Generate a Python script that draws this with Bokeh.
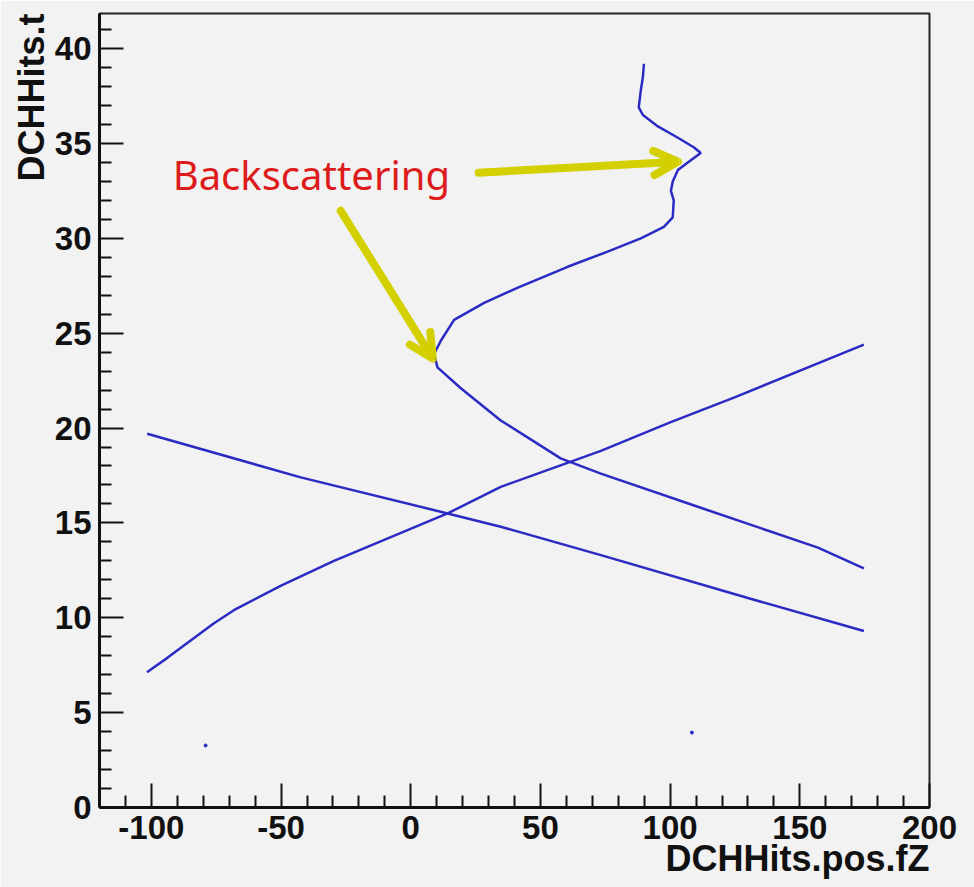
from bokeh.plotting import figure
from bokeh.models import FixedTicker, Label, Arrow, OpenHead, Range1d, Title
from bokeh.embed import file_html
from bokeh.resources import INLINE

# ---- data ----
x_major = [-100, -50, 0, 50, 100, 150, 200]
x_minor = [-110, -90, -80, -70, -60, -40, -30, -20, -10, 10, 20, 30, 40, 60, 70, 80, 90,
           110, 120, 130, 140, 160, 170, 180, 190]
x_tick_labels = ["-100", "-50", "0", "50", "100", "150", "200"]
y_major = [0, 5, 10, 15, 20, 25, 30, 35, 40]
y_minor = [1, 2, 3, 4, 6, 7, 8, 9, 11, 12, 13, 14, 16, 17, 18, 19, 21, 22, 23, 24,
           26, 27, 28, 29, 31, 32, 33, 34, 36, 37, 38, 39, 41]
y_tick_labels = ["0", "5", "10", "15", "20", "25", "30", "35", "40"]

# rising track
rise_x = [-101.7, -93.7, -76.0, -68.2, -50.0, -29.6, 14.2, 34.7, 73.3, 100.0, 124.6, 174.7]
rise_y = [7.13, 7.9, 9.7, 10.4, 11.7, 13.0, 15.5, 16.9, 18.8, 20.3, 21.6, 24.4]
# falling track
fall_x = [-101.6, -42.4, 14.2, 34.7, 73.3, 131.0, 174.7]
fall_y = [19.7, 17.4, 15.5, 14.8, 13.3, 11.0, 9.3]
# backscattering track
back_x = [174.7, 157.0, 111.8, 73.3, 57.8, 34.7, 19.3, 10.3, 9.0, 11.6, 16.7, 28.3, 41.3,
          60.5, 75.9, 88.7, 97.6, 101.0, 101.4, 100.3, 101.0, 103.0, 106.8, 111.8, 109.1,
          103.0, 95.3, 89.5, 87.9, 88.7, 89.5, 89.9]
back_y = [12.6, 13.7, 15.8, 17.6, 18.4, 20.4, 22.1, 23.2, 23.9, 24.6, 25.7, 26.6, 27.4,
          28.5, 29.3, 30.0, 30.6, 31.1, 32.0, 32.5, 33.0, 33.6, 34.0, 34.5, 34.8,
          35.3, 35.9, 36.5, 36.9, 37.8, 38.5, 39.2]
# isolated hits
dot_x = [-79.1, 108.4]
dot_y = [3.27, 3.95]

x_title = "DCHHits.pos.fZ"
y_title = "DCHHits.t"
annot_text = "Backscattering"
annot_pos = (-91.8, 33.35)
arrows = [((26.2, 33.46), (103.0, 34.04)), ((-27.0, 31.45), (8.5, 23.66))]

BG = "#f2f2f2"
BLUE = "#2b2bc4"
YELLOW = "#d4d000"
FONT = "Liberation Sans"

p = figure(width=974, height=887, output_backend="svg", toolbar_location=None,
           x_range=Range1d(-120, 200), y_range=Range1d(0, 41.85),
           min_border_left=99, min_border_right=45, min_border_top=13, min_border_bottom=80,
           background_fill_color=BG, border_fill_color=BG)
p.grid.visible = False
p.outline_line_color = "#222222"
p.outline_line_width = 2

for ax, maj, mnr, labs in [(p.xaxis[0], x_major, x_minor, x_tick_labels),
                           (p.yaxis[0], y_major, y_minor, y_tick_labels)]:
    ax.ticker = FixedTicker(ticks=maj, minor_ticks=mnr)
    ax.major_label_overrides = {t: l for t, l in zip(maj, labs)}
    ax.major_tick_in = 24
    ax.major_tick_out = 0
    ax.minor_tick_in = 12
    ax.minor_tick_out = 0
    ax.axis_line_width = 3
    ax.axis_line_color = "#111111"
    ax.major_tick_line_width = 2
    ax.minor_tick_line_width = 2
    ax.major_tick_line_color = "#111111"
    ax.minor_tick_line_color = "#111111"
    ax.major_label_text_font = FONT
    ax.major_label_text_font_style = "bold"
    ax.major_label_text_font_size = "33px"
    ax.major_label_text_color = "#111111"
p.xaxis.major_label_standoff = 8
p.yaxis.major_label_standoff = 8

# axis titles, ROOT style at the end of each axis
p.add_layout(Title(text=x_title, align="right", text_font=FONT, text_font_style="bold",
                   text_font_size="36px", text_color="#111111", standoff=-12), "below")
p.add_layout(Title(text=y_title, align="right", text_font=FONT, text_font_style="bold",
                   text_font_size="36px", text_color="#111111", standoff=0), "left")

for xs, ys in [(rise_x, rise_y), (fall_x, fall_y), (back_x, back_y)]:
    p.line(xs, ys, line_color=BLUE, line_width=2.5)
p.scatter(dot_x, dot_y, size=3, color=BLUE)

# annotation
p.add_layout(Label(x=annot_pos[0], y=annot_pos[1], text=annot_text, text_align="left",
                   text_baseline="alphabetic", text_font="Noto Sans",
                   text_font_size="40px", text_color="#dd1c1c"))
for (x0, y0), (x1, y1) in arrows:
    p.add_layout(Arrow(x_start=x0, y_start=y0, x_end=x1, y_end=y1,
                       line_color=YELLOW, line_width=8, line_cap="round",
                       end=OpenHead(size=24, line_color=YELLOW, line_width=8, line_cap="round")))

open("out.html", "w").write(file_html(p, INLINE))
